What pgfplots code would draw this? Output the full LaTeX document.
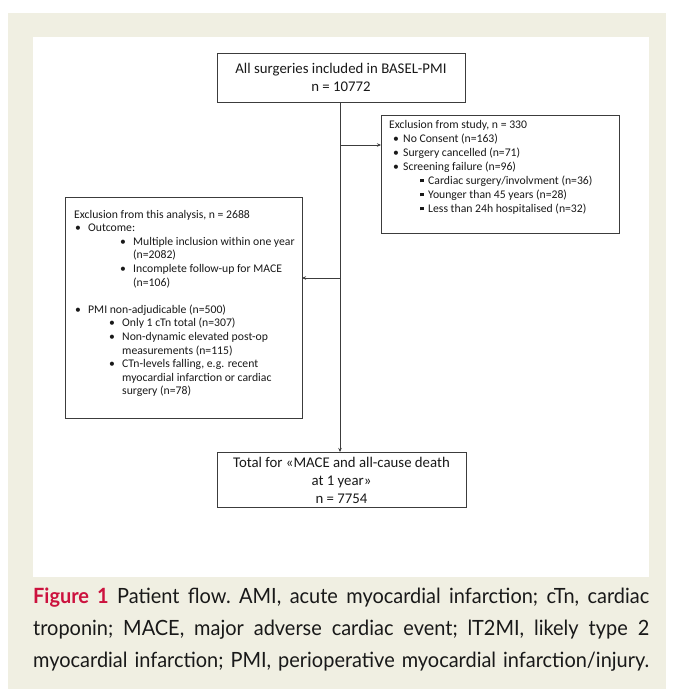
\documentclass[border=0pt]{standalone}
\usepackage{pgfplots}
\pgfplotsset{compat=1.18}
\usepackage{fontspec}
\setmainfont{Carlito}
\newfontfamily\capfont[FakeStretch=0.95]{Lato}
\usetikzlibrary{arrows.meta}
\definecolor{beige}{RGB}{240,239,226}
\definecolor{figred}{RGB}{204,18,62}
\definecolor{boxline}{RGB}{60,60,60}
\definecolor{txt}{RGB}{25,25,25}
\newcommand{\bigf}{\fontsize{14.8}{18}\selectfont}
\newcommand{\smf}{\fontsize{11.7}{13.6}\selectfont}
\newcommand{\capf}{\capfont\frenchspacing\fontsize{21}{32}\selectfont}
\newcommand{\sq}{\rule[1.6pt]{3.6pt}{3.6pt}}
\begin{document}
\begin{tikzpicture}
\begin{axis}[scale only axis, width=674pt, height=689pt,
  xmin=0, xmax=674, ymin=0, ymax=689, y dir=reverse, hide axis, clip=false]
\fill[white] (axis cs:0,0) rectangle (axis cs:674,689);
\fill[beige] (axis cs:8,13) rectangle (axis cs:666,689);
\fill[white] (axis cs:33,37) rectangle (axis cs:649,577);
% connectors
\addplot[boxline, line width=0.8pt, -{Stealth[length=4pt,width=3.5pt]}] coordinates {(340,102) (340,452)};
\addplot[boxline, line width=0.8pt, -{Stealth[length=4pt,width=3.5pt]}] coordinates {(340,145) (381,145)};
\addplot[boxline, line width=0.8pt, -{Stealth[length=4pt,width=3.5pt]}] coordinates {(340,278) (302,278)};
% boxes
\draw[boxline, line width=0.9pt, fill=white] (axis cs:217,53) rectangle (axis cs:465,102);
\draw[boxline, line width=0.9pt, fill=white] (axis cs:381,115) rectangle (axis cs:619,233);
\draw[boxline, line width=0.9pt, fill=white] (axis cs:65,197) rectangle (axis cs:302,418);
\draw[boxline, line width=0.9pt, fill=white] (axis cs:217,452) rectangle (axis cs:466,507);
% top box
\node[anchor=base, inner sep=0, text=txt, font=\bigf] at (axis cs:341,73) {All surgeries included in BASEL-PMI};
\node[anchor=base, inner sep=0, text=txt, font=\bigf] at (axis cs:341,91) {n = 10772};
% bottom box
\node[anchor=base, inner sep=0, text=txt, font=\bigf] at (axis cs:341.5,467) {Total for «MACE and all-cause death};
\node[anchor=base, inner sep=0, text=txt, font=\bigf] at (axis cs:341.5,485) {at 1 year»};
\node[anchor=base, inner sep=0, text=txt, font=\bigf] at (axis cs:341.5,503) {n = 7754};
% right box
\node[anchor=base west, inner sep=0, text=txt, font=\smf] at (axis cs:389,128) {Exclusion from study, n = 330};
\node[anchor=base, inner sep=0, text=txt, font=\smf] at (axis cs:396,142) {•};
\node[anchor=base west, inner sep=0, text=txt, font=\smf] at (axis cs:403,142) {No Consent (n=163)};
\node[anchor=base, inner sep=0, text=txt, font=\smf] at (axis cs:396,156) {•};
\node[anchor=base west, inner sep=0, text=txt, font=\smf] at (axis cs:403,156) {Surgery cancelled (n=71)};
\node[anchor=base, inner sep=0, text=txt, font=\smf] at (axis cs:396,170) {•};
\node[anchor=base west, inner sep=0, text=txt, font=\smf] at (axis cs:403,170) {Screening failure (n=96)};
\node[anchor=base, inner sep=0, text=txt, font=\smf] at (axis cs:422,184) {\sq};
\node[anchor=base west, inner sep=0, text=txt, font=\smf] at (axis cs:428,184) {Cardiac surgery/involvment (n=36)};
\node[anchor=base, inner sep=0, text=txt, font=\smf] at (axis cs:422,198) {\sq};
\node[anchor=base west, inner sep=0, text=txt, font=\smf] at (axis cs:428,198) {Younger than 45 years (n=28)};
\node[anchor=base, inner sep=0, text=txt, font=\smf] at (axis cs:422,212) {\sq};
\node[anchor=base west, inner sep=0, text=txt, font=\smf] at (axis cs:428,212) {Less than 24h hospitalised (n=32)};
% left box
\node[anchor=base west, inner sep=0, text=txt, font=\smf] at (axis cs:74,218) {Exclusion from this analysis, n = 2688};
\node[anchor=base, inner sep=0, text=txt, font=\smf] at (axis cs:78,231.6) {•};
\node[anchor=base west, inner sep=0, text=txt, font=\smf] at (axis cs:88,231.6) {Outcome:};
\node[anchor=base, inner sep=0, text=txt, font=\smf] at (axis cs:123,245.2) {•};
\node[anchor=base west, inner sep=0, text=txt, font=\smf] at (axis cs:133,245.2) {Multiple inclusion within one year};
\node[anchor=base west, inner sep=0, text=txt, font=\smf] at (axis cs:133,258.8) {(n=2082)};
\node[anchor=base, inner sep=0, text=txt, font=\smf] at (axis cs:123,272.4) {•};
\node[anchor=base west, inner sep=0, text=txt, font=\smf] at (axis cs:133,272.4) {Incomplete follow-up for MACE};
\node[anchor=base west, inner sep=0, text=txt, font=\smf] at (axis cs:133,286) {(n=106)};
\node[anchor=base, inner sep=0, text=txt, font=\smf] at (axis cs:78,313.2) {•};
\node[anchor=base west, inner sep=0, text=txt, font=\smf] at (axis cs:88,313.2) {PMI non-adjudicable (n=500)};
\node[anchor=base, inner sep=0, text=txt, font=\smf] at (axis cs:112,326.8) {•};
\node[anchor=base west, inner sep=0, text=txt, font=\smf] at (axis cs:122,326.8) {Only 1 cTn total (n=307)};
\node[anchor=base, inner sep=0, text=txt, font=\smf] at (axis cs:112,340.4) {•};
\node[anchor=base west, inner sep=0, text=txt, font=\smf] at (axis cs:122,340.4) {Non-dynamic elevated post-op};
\node[anchor=base west, inner sep=0, text=txt, font=\smf] at (axis cs:122,354) {measurements (n=115)};
\node[anchor=base, inner sep=0, text=txt, font=\smf] at (axis cs:112,367.6) {•};
\node[anchor=base west, inner sep=0, text=txt, font=\smf] at (axis cs:122,367.6) {CTn-levels falling, e.g. recent};
\node[anchor=base west, inner sep=0, text=txt, font=\smf] at (axis cs:122,381.2) {myocardial infarction or cardiac};
\node[anchor=base west, inner sep=0, text=txt, font=\smf] at (axis cs:122,394.8) {surgery (n=78)};
% caption
\node[anchor=base west, inner sep=0, text=txt, font=\capf] at (axis cs:33,603) {\makebox[616pt][s]{{\bfseries\color{figred}Figure 1} Patient flow. AMI, acute myocardial infarction; cTn, cardiac}};
\node[anchor=base west, inner sep=0, text=txt, font=\capf] at (axis cs:33,635) {\makebox[616pt][s]{troponin; MACE, major adverse cardiac event; lT2MI, likely type 2}};
\node[anchor=base west, inner sep=0, text=txt, font=\capf] at (axis cs:33,667) {\makebox[616pt][s]{myocardial infarction; PMI, perioperative myocardial infarction/injury.}};
\end{axis}
\end{tikzpicture}
\end{document}
